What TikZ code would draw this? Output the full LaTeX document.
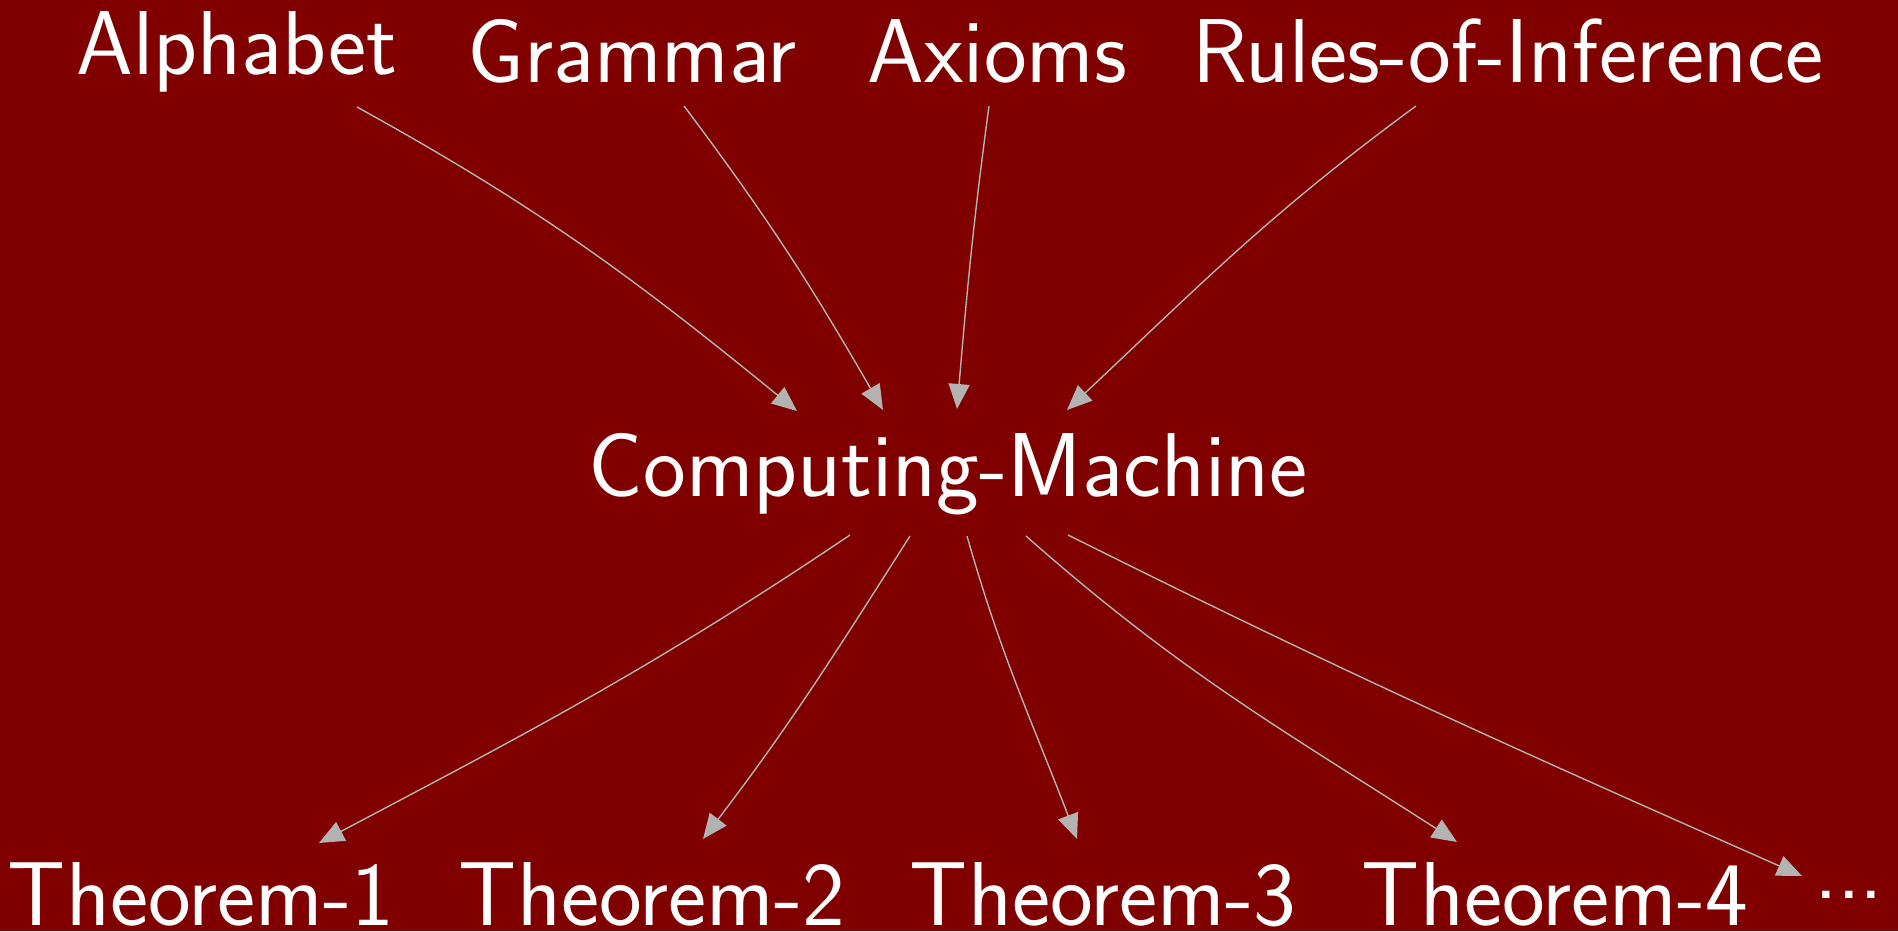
\documentclass[tikz,border=0pt]{standalone}
\usetikzlibrary{arrows.meta,calc}
\definecolor{bgmaroon}{RGB}{128,0,0}
\definecolor{arrgray}{RGB}{179,179,179}
\begin{document}
\begin{tikzpicture}[x=0.5pt,y=-0.5pt,
  lbl/.style={text=white,inner sep=0pt,anchor=base,font=\sffamily\fontsize{45.4}{50}\selectfont},
  arr/.style={draw=arrgray,line width=0.7pt,-{Triangle[length=12.5pt,width=10.5pt]}}]
\fill[bgmaroon] (0,0) rectangle (1898,931);
\useasboundingbox (0,0) rectangle (1898,931);
% top row
\node[lbl] (alpha) at (237,75) {Alphabet};
\node[lbl] (gram)  at (632,83) {Grammar};
\node[lbl] (axi)   at (997.5,83) {Axioms};
\node[lbl] (rules) at (1508,83) {Rules-of-Inference};
% middle
\node[lbl] (cm) at (948,496) {Computing-Machine};
% bottom row
\node[lbl] (t1) at (201,925) {Theorem-1};
\node[lbl] (t2) at (652,925) {Theorem-2};
\node[lbl] (t3) at (1103,925) {Theorem-3};
\node[lbl] (t4) at (1555,925) {Theorem-4};
\node[lbl] (dots) at (1849,925) {\raisebox{13.5pt}{.\kern-0.6pt.\kern-0.6pt.}};
% incoming edges
\draw[arr] ($(alpha.base)+(120,32)$) .. controls +(183,101) and +(-162,-132) .. ($(cm.base)+(-151,-85)$);
\draw[arr] ($(gram.base)+(52,23)$) .. controls +(85,113) and +(-71,-123) .. ($(cm.base)+(-65,-86)$);
\draw[arr] ($(axi.base)+(-8.5,23)$) .. controls +(-16,118) and +(10,-118) .. ($(cm.base)+(9,-87)$);
\draw[arr] ($(rules.base)+(-92,23)$) .. controls +(-146,107) and +(132,-124) .. ($(cm.base)+(119,-86)$);
% outgoing edges
\draw[arr] ($(cm.base)+(-98,39)$) .. controls +(-199,134) and +(212,-112) .. ($(t1.base)+(118,-82)$);
\draw[arr] ($(cm.base)+(-38,40)$) .. controls +(-77,121) and +(87,-114) .. ($(t2.base)+(51,-86)$);
\draw[arr] ($(cm.base)+(19,40)$) .. controls +(35,123) and +(-45,-118) .. ($(t3.base)+(-26,-86)$);
\draw[arr] ($(cm.base)+(78,40)$) .. controls +(155,137) and +(-174,-112) .. ($(t4.base)+(-98,-83)$);
\draw[arr] ($(cm.base)+(120,39)$) .. controls +(283,141) and +(-289,-128) .. ($(dots.base)+(-47,-49)$);
\end{tikzpicture}
\end{document}
